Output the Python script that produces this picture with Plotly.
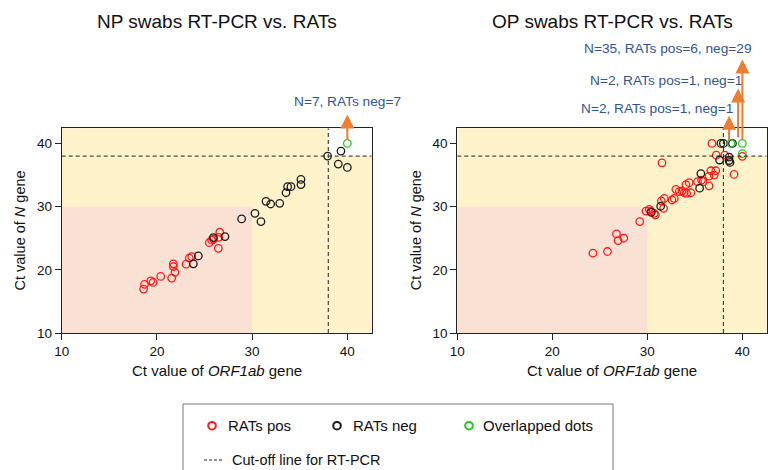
import plotly.graph_objects as go

# ---------------- data ----------------
np_pos_x = [18.6, 18.7, 19.35, 19.6, 20.4, 21.55, 21.73, 21.73, 21.9, 23.06, 23.4, 23.65, 25.5, 25.75, 25.95, 26.45, 26.5, 26.6]
np_pos_y = [16.95, 17.7, 18.26, 18.0, 18.95, 18.7, 20.95, 20.5, 19.6, 20.9, 21.84, 22.1, 24.3, 24.7, 24.84, 23.4, 25.15, 25.95]
np_neg_x = [23.83, 24.35, 25.93, 27.15, 28.9, 30.3, 30.93, 31.46, 31.95, 32.9, 33.56, 33.73, 34.08, 35.13, 35.13, 37.93, 39.33, 39.05, 40.0]
np_neg_y = [20.95, 22.2, 25.1, 25.26, 28.05, 28.95, 27.63, 30.84, 30.42, 30.53, 32.2, 33.16, 33.16, 34.3, 33.5, 38.0, 38.79, 36.74, 36.2]
np_ovl_x = [40.0]
np_ovl_y = [40.0]

op_pos_x = [24.27, 25.8, 26.75, 26.92, 27.52, 29.2, 29.86, 30.2, 30.38, 30.73, 30.84, 31.47, 31.78, 31.71, 31.54,
            32.59, 32.83, 33.0, 33.36, 33.64, 33.88, 34.06, 34.13, 34.4, 34.58, 35.28, 35.7, 35.87, 36.5, 36.5,
            36.68, 37.03, 37.2, 36.8, 37.25, 38.15, 39.12, 40.0]
op_pos_y = [22.63, 22.9, 25.68, 24.63, 25.0, 27.63, 29.3, 29.58, 29.3, 28.95, 28.68, 30.9, 31.3, 29.74, 36.93,
            31.05, 31.3, 32.74, 32.37, 32.47, 32.2, 33.5, 32.1, 33.79, 32.2, 33.95, 34.2, 33.95, 34.84, 33.3,
            35.68, 35.0, 35.68, 40.0, 38.15, 38.15, 35.1, 37.96]
op_neg_x = [30.42, 31.4, 35.63, 35.5, 37.6, 38.6, 38.6, 38.7, 37.74, 38.0, 38.96]
op_neg_y = [29.1, 30.06, 35.24, 32.93, 37.38, 37.85, 37.3, 37.0, 40.0, 40.0, 40.0]
op_ovl_x = [38.8, 40.0, 40.0]
op_ovl_y = [40.0, 40.0, 38.4]

cutoff = 38
pink_limit = 30
x_range = [10, 42.56]
y_range = [10, 42.4]
tick_vals = [10, 20, 30, 40]

np_arrows = [  # x, tail y, head y, label
    (40.0, 40.3, 44.6, "N=7, RATs neg=7"),
]
op_arrows = [
    (38.6, 40.3, 44.4, "N=2, RATs pos=1, neg=1"),
    (39.55, 40.7, 48.7, "N=2, RATs pos=1, neg=1"),
    (40.0, 40.35, 53.3, "N=35, RATs pos=6, neg=29"),
]

# ---------------- style ----------------
W, H = 768, 470
RED = "#ff1a1a"
BLACK = "#1a1a1a"
GREEN = "#22c422"
YELLOW = "#fef2cb"
PINK = "#f9e2d4"
ORANGE = "#ed7d31"
BLUE = "#2f5597"
FONT = "Liberation Sans, Arial, sans-serif"


def px(x):
    return x / W


def py(y):
    return 1 - y / H


dom_y = [py(333), py(128.3)]
dom_x1 = [px(61.7), px(371.7)]
dom_x2 = [px(457.3), px(766.7)]

fig = go.Figure()

panels = [
    ("x", "y", np_pos_x, np_pos_y, np_neg_x, np_neg_y, np_ovl_x, np_ovl_y),
    ("x2", "y2", op_pos_x, op_pos_y, op_neg_x, op_neg_y, op_ovl_x, op_ovl_y),
]
for xa, ya, px_, py_, nx, ny, ox, oy in panels:
    for xs, ys, col in [(px_, py_, RED), (nx, ny, BLACK), (ox, oy, GREEN)]:
        fig.add_trace(go.Scatter(
            x=xs, y=ys, mode="markers", xaxis=xa, yaxis=ya, showlegend=False,
            marker=dict(symbol="circle-open", size=7.5, color=col, line=dict(width=1.3, color=col)),
            hoverinfo="skip"))

axis_common = dict(showgrid=False, zeroline=False, showline=True, linecolor="#222", automargin=False,
                   linewidth=1, mirror=True, ticks="outside", ticklen=6, tickcolor="#222",
                   tickvals=tick_vals, tickfont=dict(family=FONT, size=13.5, color="#111"))

fig.update_layout(
    template="none",
    width=W, height=H, margin=dict(l=0, r=0, t=0, b=0, pad=0),
    paper_bgcolor="white", plot_bgcolor=YELLOW,
    xaxis=dict(axis_common, domain=dom_x1, range=x_range, anchor="y"),
    yaxis=dict(axis_common, domain=dom_y, range=y_range, anchor="x"),
    xaxis2=dict(axis_common, domain=dom_x2, range=x_range, anchor="y2"),
    yaxis2=dict(axis_common, domain=dom_y, range=y_range, anchor="x2"),
)

shapes = []
for xa, ya in [("x", "y"), ("x2", "y2")]:
    shapes.append(dict(type="rect", xref=xa, yref=ya, x0=x_range[0], x1=pink_limit, y0=y_range[0], y1=pink_limit,
                       fillcolor=PINK, line=dict(width=0), layer="below"))
    shapes.append(dict(type="rect", xref=xa, yref=ya, x0=cutoff, x1=x_range[1], y0=cutoff, y1=y_range[1],
                       fillcolor="white", line=dict(width=0), layer="below"))
    shapes.append(dict(type="line", xref=xa, yref=ya, x0=cutoff, x1=cutoff, y0=y_range[0], y1=y_range[1],
                       line=dict(color="#222", width=1, dash="4px,3px")))
    shapes.append(dict(type="line", xref=xa, yref=ya, x0=x_range[0], x1=x_range[1], y0=cutoff, y1=cutoff,
                       line=dict(color="#222", width=1, dash="4px,3px")))

# legend box
shapes.append(dict(type="rect", xref="paper", yref="paper", x0=px(183), x1=px(613), y0=py(490), y1=py(404),
                   line=dict(color="#777", width=1), fillcolor="rgba(0,0,0,0)"))
legend_items = [(212, RED, 225.5, "RATs pos"), (337, BLACK, 351, "RATs neg"), (469, GREEN, 481, "Overlapped dots")]
ann = []
for cx, col, tx, label in legend_items:
    shapes.append(dict(type="circle", xref="paper", yref="paper", xsizemode="pixel", ysizemode="pixel",
                       xanchor=px(cx), yanchor=py(425.7), x0=-3.8, x1=3.8, y0=-3.8, y1=3.8,
                       line=dict(color=col, width=2)))
    ann.append(dict(text=label, xref="paper", yref="paper", x=px(tx), y=py(425.7), xanchor="left",
                    yanchor="middle", showarrow=False, font=dict(family=FONT, size=15, color="#111")))
shapes.append(dict(type="line", xref="paper", yref="paper", x0=px(204), x1=px(223), y0=py(460), y1=py(460),
                   line=dict(color="#222", width=1, dash="3px,2px")))
ann.append(dict(text="Cut-off line for RT-PCR", xref="paper", yref="paper", x=px(230.5), y=py(460),
                xanchor="left", yanchor="middle", showarrow=False, borderpad=0,
                font=dict(family=FONT, size=14.5, color="#111")))

# titles
for cx, t in [(216.7, "NP swabs RT-PCR vs. RATs"), (612, "OP swabs RT-PCR vs. RATs")]:
    ann.append(dict(text=t, xref="paper", yref="paper", x=px(cx), y=py(21), xanchor="center", yanchor="middle",
                    showarrow=False, font=dict(family=FONT, size=19, color="#111")))
# axis titles
for cx in [216.7, 612]:
    ann.append(dict(text="Ct value of <i>ORF1ab</i> gene", xref="paper", yref="paper", x=px(cx), y=py(370),
                    xanchor="center", yanchor="middle", showarrow=False,
                    font=dict(family=FONT, size=15, color="#111")))
for cx in [20, 416.7]:
    ann.append(dict(text="Ct value of <i>N</i> gene", xref="paper", yref="paper", x=px(cx), y=py(230.5),
                    xanchor="center", yanchor="middle", textangle=-90, showarrow=False,
                    font=dict(family=FONT, size=14.5, color="#111")))

# arrows + labels
label_pos_np = [(347, 102)]
label_pos_op = [(657, 108), (666, 81), (668, 49)]
for (xa, ya, arrows, lpos) in [("x", "y", np_arrows, label_pos_np), ("x2", "y2", op_arrows, label_pos_op)]:
    for (ax_, tail, head, label), (lx, ly) in zip(arrows, lpos):
        ann.append(dict(text="", x=ax_, y=head, xref=xa, yref=ya, ax=ax_, ay=tail, axref=xa, ayref=ya,
                        showarrow=True, arrowhead=2, arrowsize=1.4, arrowwidth=2, arrowcolor=ORANGE))
        ann.append(dict(text=label, xref="paper", yref="paper", x=px(lx), y=py(ly), xanchor="center",
                        yanchor="middle", showarrow=False, font=dict(family=FONT, size=13.7, color=BLUE)))

fig.update_layout(shapes=shapes, annotations=ann)
fig.write_html("out.html", config={"displayModeBar": False, "staticPlot": True},
               post_script="document.body.style.margin='0px';document.body.style.overflow='hidden';")
